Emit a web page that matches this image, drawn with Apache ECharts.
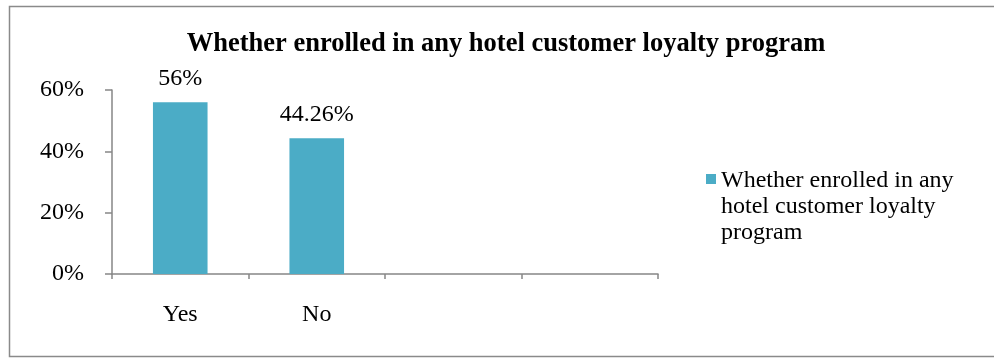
<!DOCTYPE html>
<html>
<head>
<meta charset="utf-8">
<style>
  html, body { margin: 0; padding: 0; background: #fff; }
  #chart { width: 994px; height: 358px; }
</style>
<script src="https://cdn.jsdelivr.net/npm/echarts@6/dist/echarts.min.js"></script>
</head>
<body>
<div id="chart"></div>
<script>
// Survey answers and their shares (percent)
const categories = ['Yes', 'No', '', ''];
const enrolledShare = [56, 44.26, null, null];
const shareLabels = ['56%', '44.26%', '', ''];
const yTicks = [0, 20, 40, 60];

const seriesName = 'Whether enrolled in any hotel customer loyalty program';
const serif = '"Liberation Serif", "Times New Roman", serif';
const axisGray = '#868686';

// Legend swatch: a 10x10 square near the top of a tall, otherwise empty box,
// so it sits beside the first line of the wrapped legend text.
const swatchPath = 'path://M0,0L0.01,0L0.01,0.01Z M0,6L10,6L10,16L0,16Z M0,78L0.01,78L0.01,78.01Z';

const chart = echarts.init(document.getElementById('chart'), null, { renderer: 'canvas' });

chart.setOption({
  backgroundColor: '#ffffff',
  animation: false,
  title: {
    text: seriesName,
    left: 501,
    textAlign: 'center',
    top: 26,
    textStyle: { fontFamily: serif, fontWeight: 'bold', fontSize: 26.5, color: '#000' }
  },
  graphic: [{
    type: 'rect',
    shape: { x: 9.5, y: 6.5, width: 1000, height: 350 },
    style: { fill: 'none', stroke: '#8a8a8a', lineWidth: 1.5 },
    silent: true
  }],
  legend: {
    orient: 'vertical',
    left: 701,
    top: 163,
    icon: swatchPath,
    itemWidth: 10,
    itemHeight: 78,
    itemGap: 10,
    formatter: () => 'Whether enrolled in any\nhotel customer loyalty\nprogram',
    textStyle: { fontFamily: serif, fontSize: 24, color: '#000', lineHeight: 26 }
  },
  grid: { left: 112, right: 336, top: 90, bottom: 84, containLabel: false },
  xAxis: {
    type: 'category',
    data: categories,
    axisLine: { lineStyle: { color: axisGray, width: 1.5 } },
    axisTick: { show: true, alignWithLabel: false, length: 5, lineStyle: { color: axisGray, width: 1.5 } },
    axisLabel: { margin: 29, fontFamily: serif, fontSize: 24, color: '#000' },
    splitLine: { show: false }
  },
  yAxis: {
    type: 'value',
    min: yTicks[0],
    max: yTicks[yTicks.length - 1],
    interval: yTicks[1] - yTicks[0],
    axisLine: { show: true, lineStyle: { color: axisGray, width: 1.5 } },
    axisTick: { show: true, length: 7, lineStyle: { color: axisGray, width: 1.5 } },
    axisLabel: { margin: 28, fontFamily: serif, fontSize: 24, color: '#000', formatter: '{value}%' },
    splitLine: { show: false }
  },
  series: [{
    name: seriesName,
    type: 'bar',
    data: enrolledShare,
    barWidth: '40%',
    itemStyle: { color: '#4BACC6' },
    label: {
      show: true,
      position: 'top',
      distance: 12,
      fontFamily: serif,
      fontSize: 24,
      color: '#000',
      formatter: p => shareLabels[p.dataIndex]
    }
  }]
});
</script>
</body>
</html>
